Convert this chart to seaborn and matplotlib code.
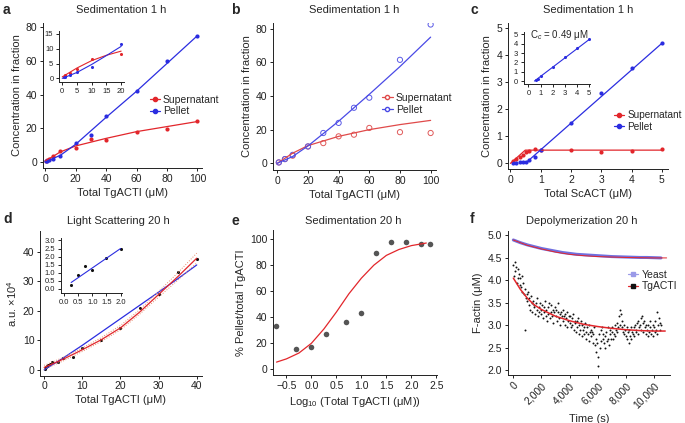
"""
    Six-panel actin polymerisation figure: sedimentation, light scattering
    and depolymerization of TgACTI vs yeast actin
"""

import matplotlib.pyplot as plt
from matplotlib.lines import Line2D
import seaborn as sns

# ---- panel a : sedimentation 1 h (filled dots) ----
a_total = [0.5, 1, 2.5, 5, 10, 20, 30, 40, 60, 80, 100]
a_pellet = [0.3, 0.5, 1.2, 2.0, 3.8, 11.5, 16, 27, 42, 60, 75]
a_super = [0.5, 1.0, 1.8, 3.3, 6.5, 8.3, 13.5, 13, 18, 19.5, 24.5]
a_fit_x = [0, 10, 20, 40, 60, 80, 100]
a_fit_super = [0.5, 6.0, 9.5, 14.0, 18.0, 21.0, 24.0]
a_fit_pellet = [0, 4.0, 10.5, 26.5, 42.0, 58.5, 75.0]
a_in_fit_x = [0, 5, 10, 15, 20]
a_in_fit_super = [0.5, 3.5, 6.0, 7.8, 9.2]
a_in_fit_pellet = [0, 2.0, 4.7, 7.7, 10.8]

# ---- panel b : sedimentation 1 h (open circles) ----
b_total = [1, 5, 10, 20, 30, 40, 50, 60, 80, 100]
b_pellet = [0.5, 2.5, 5, 10, 18, 24, 33, 39, 61.5, 82.5]
b_super = [0.5, 2.5, 4.5, 10, 12, 16, 17, 21, 18.5, 18]
b_fit_x = [0, 10, 20, 40, 60, 80, 100]
b_fit_super = [0, 6.0, 10.5, 16.0, 20.0, 23.0, 25.5]
b_fit_pellet = [0, 4.0, 10.3, 25.0, 41.0, 57.5, 75.0]

# ---- panel c : ScACT sedimentation ----
c_total = [0.1, 0.2, 0.3, 0.4, 0.5, 0.6, 0.8, 1, 2, 3, 4, 5]
c_pellet = [0.02, 0.03, 0.05, 0.06, 0.06, 0.12, 0.25, 0.5, 1.5, 2.6, 3.55, 4.45]
c_super = [0.08, 0.15, 0.25, 0.3, 0.42, 0.45, 0.55, 0.5, 0.48, 0.42, 0.47, 0.55]
c_fit_super_x = [0, 0.49, 5]
c_fit_super = [0, 0.49, 0.49]
c_fit_pellet_x = [0.49, 5]
c_fit_pellet = [0, 4.45]
c_in_total = [0.6, 0.8, 1, 2, 3, 4, 5]
c_in_pellet = [0.1, 0.25, 0.5, 1.5, 2.6, 3.55, 4.5]

# ---- panel d : light scattering 20 h ----
d_total = [0.25, 0.5, 0.75, 1, 1.5, 2, 3.5, 5, 7.5, 10, 15, 20, 25, 30, 35, 40]
d_signal = [0.3, 1.0, 1.2, 1.5, 2.0, 2.5, 2.6, 4.0, 4.5, 7.5, 10, 14, 21, 25.5, 33, 37.5]
d_fit_x = [0, 5, 10, 15, 20, 25, 30, 35, 40]
d_fit_power = [0.8, 3.6, 6.8, 10.2, 14.2, 19.5, 25.5, 31.5, 37.8]
d_fit_hi = [1.5, 4.2, 7.4, 10.9, 15.0, 20.3, 26.5, 32.8, 39.5]
d_fit_lo = [0.2, 3.0, 6.2, 9.6, 13.5, 18.8, 24.6, 30.3, 36.2]
d_fit_linear = [0, 4.0, 8.3, 12.8, 17.3, 21.8, 26.3, 30.8, 35.5]
d_in_total = [0.25, 0.5, 0.75, 1.0, 1.5, 2.0]
d_in_signal = [0.25, 0.85, 1.4, 1.2, 1.9, 2.5]
d_in_fit_x = [0.25, 2.0]
d_in_fit = [0.4, 2.5]

# ---- panel e : sedimentation 20 h ----
e_log_total = [-0.7, -0.3, 0, 0.3, 0.7, 1.0, 1.3, 1.6, 1.9, 2.2, 2.38]
e_pct_pellet = [33, 15.5, 17, 27, 36.5, 43, 89, 97.5, 98, 96, 96.5]
e_fit_x = [-0.7, -0.5, -0.25, 0, 0.25, 0.5, 0.75, 1.0, 1.25, 1.5, 1.75, 2.0, 2.3]
e_fit_y = [5.5, 8, 12.5, 20, 31, 44, 58, 70, 80, 87.5, 92, 95, 97]

# ---- panel f : depolymerization 20 h ----
f_yeast_t = [0, 500, 1000, 1500, 2000, 2500, 3000, 3500, 4000, 4500, 5000,
             5500, 6000, 6500, 7000, 7500, 8000, 8500, 9000, 9500, 10000, 10500]
f_yeast = [4.9, 4.84, 4.79, 4.75, 4.71, 4.68, 4.65, 4.62, 4.6, 4.58, 4.57,
           4.56, 4.55, 4.54, 4.53, 4.525, 4.52, 4.515, 4.51, 4.51, 4.505, 4.5]
f_yeast_fit_t = [0, 1000, 2000, 3000, 4000, 5000, 6000, 7000, 8000, 9000, 10000, 10900]
f_yeast_fit = [4.9, 4.78, 4.7, 4.63, 4.58, 4.55, 4.53, 4.52, 4.51, 4.505, 4.5, 4.5]
f_tg_t = list(range(0, 10550, 50))
f_tg = [4.35, 4.1, 4.4, 4.2, 4.3, 3.95, 4.25, 4.05, 4.15, 3.9,
        4.05, 3.85, 4.1, 3.75, 3.95, 3.7, 2.9, 3.8, 3.6, 3.7,
        3.55, 3.75, 3.45, 3.6, 3.35, 3.65, 3.5, 3.3, 3.55, 3.4,
        3.45, 3.25, 3.5, 3.35, 3.6, 3.2, 3.4, 3.3, 3.5, 3.25,
        3.35, 3.45, 3.15, 3.4, 3.3, 3.55, 3.2, 3.35, 3.1, 3.4,
        3.25, 3.5, 3.15, 3.3, 3.45, 3.2, 3.35, 3.05, 3.3, 3.4,
        3.2, 3.35, 3.1, 3.3, 3.5, 3.15, 3.25, 3.0, 3.3, 3.2,
        3.1, 3.35, 3.2, 3.0, 3.25, 3.15, 3.3, 2.95, 3.1, 3.2,
        3.05, 3.2, 2.95, 3.15, 3.0, 3.25, 2.9, 3.1, 3.05, 2.85,
        3.1, 2.95, 3.15, 2.8, 3.0, 2.9, 3.1, 2.75, 3.0, 2.9,
        2.95, 2.8, 3.05, 2.85, 2.7, 2.95, 2.8, 3.0, 2.65, 2.85,
        2.9, 2.75, 2.85, 2.6, 2.8, 2.95, 2.55, 2.7, 2.4, 2.6,
        2.1, 2.3, 2.8, 2.5, 2.9, 2.65, 2.95, 2.7, 2.8, 2.6,
        2.75, 2.5, 2.85, 2.65, 2.95, 2.7, 2.55, 2.8, 2.9, 2.7,
        2.85, 2.95, 2.7, 2.8, 3.0, 2.75, 2.9, 2.85, 3.05, 2.95,
        3.2, 3.35, 3.0, 3.25, 2.95, 3.1, 2.85, 3.0, 2.8, 2.9,
        2.75, 2.95, 2.7, 2.85, 2.6, 2.9, 2.75, 2.95, 2.7, 2.85,
        2.8, 2.95, 2.75, 3.0, 2.85, 2.9, 3.05, 2.8, 3.1, 2.95,
        3.0, 3.15, 2.9, 3.2, 3.05, 2.85, 3.1, 2.95, 3.0, 2.8,
        2.9, 2.75, 3.0, 2.85, 2.95, 3.1, 2.8, 2.9, 3.0, 2.75,
        2.95, 2.85, 3.1, 2.9, 3.3, 2.8, 3.0, 3.15, 2.9, 3.05,
        3.0]
f_tg_fit_t = [0, 500, 1000, 1500, 2000, 3000, 4000, 5000, 6000, 7000,
              8000, 9000, 10000, 10800]
f_tg_fit = [4.05, 3.8, 3.6, 3.45, 3.35, 3.2, 3.1, 3.02, 2.97, 2.93,
            2.9, 2.88, 2.87, 2.87]

RED = "#e2262b"
BLUE = "#2b2de0"
FS = 7.5

sns.set_style("ticks")
plt.rcParams["font.family"] = ["Liberation Sans", "DejaVu Sans"]
plt.rcParams["mathtext.fontset"] = "custom"
plt.rcParams["mathtext.rm"] = "Liberation Sans"
plt.rcParams["mathtext.it"] = "Liberation Sans:italic"
plt.rcParams["axes.linewidth"] = 0.7

fig = plt.figure(figsize=(6.85, 4.23), dpi=100)
W, H = 685.0, 423.0


def add_ax(left, top, right, bottom):
    """axes from pixel box of the reference"""
    return fig.add_axes([left / W, 1 - bottom / H, (right - left) / W, (bottom - top) / H])


def style(ax, size=FS):
    sns.despine(ax=ax)
    ax.tick_params(length=2.5, width=0.7, labelsize=size, pad=1.5, colors="#222222")
    for s in ("left", "bottom"):
        ax.spines[s].set_color("#222222")


def line(ax, x, y, color, lw=0.9, ls="-"):
    sns.lineplot(x=x, y=y, ax=ax, color=color, lw=lw, ls=ls, sort=False,
                 estimator=None, legend=False)


def pts(ax, x, y, color, s=9, open_=False):
    if open_:
        sns.scatterplot(x=x, y=y, ax=ax, s=s, facecolor="none", edgecolor=color,
                        linewidth=0.7, legend=False)
    else:
        sns.scatterplot(x=x, y=y, ax=ax, s=s, color=color, linewidth=0, legend=False)


def leg(ax, items, anchor, marker="o", mfc=None, size=FS):
    handles = []
    for lab, col, mcol in items:
        handles.append(Line2D([0], [0], color=col, lw=0.9, marker=marker, ms=3,
                              mfc=mcol if mfc is None else mfc, mec=mcol))
    ax.legend(handles, [i[0] for i in items], loc="center left", bbox_to_anchor=anchor,
              frameon=False, fontsize=size, handlelength=1.0, handletextpad=0.3,
              labelspacing=0.15, borderpad=0, borderaxespad=0)


def head(letter, lx, ly, title, tx, ty):
    fig.text(lx / W, 1 - ly / H, letter, fontsize=10, fontweight="bold", va="center")
    fig.text(tx / W, 1 - ty / H, title, fontsize=8, ha="center", va="center")


# ----- a -----
ax = add_ax(43, 23, 202, 168)
line(ax, a_fit_x, a_fit_super, RED)
line(ax, a_fit_x, a_fit_pellet, BLUE)
pts(ax, a_total, a_super, RED)
pts(ax, a_total, a_pellet, BLUE)
ax.set_xlim(-1.5, 103)
ax.set_ylim(-3.6, 82.5)
ax.set_xticks([0, 20, 40, 60, 80, 100])
ax.set_yticks([0, 20, 40, 60, 80])
ax.set_xlabel("Total TgACTI (μM)", fontsize=8, labelpad=3)
ax.set_ylabel("Concentration in fraction", fontsize=8, labelpad=3)
style(ax)
leg(ax, [("Supernatant", RED, RED), ("Pellet", BLUE, BLUE)], (0.67, 0.43))
head("a", 3, 10, "Sedimentation 1 h", 121, 10)

ins = add_ax(59, 31, 123.5, 82.5)
line(ins, a_in_fit_x, a_in_fit_super, RED, lw=0.8)
line(ins, a_in_fit_x, a_in_fit_pellet, BLUE, lw=0.8)
pts(ins, a_total[:6], a_super[:6], RED, s=5)
pts(ins, a_total[:6], a_pellet[:6], BLUE, s=5)
ins.set_xlim(-1.1, 20.8)
ins.set_ylim(-1.4, 16)
ins.set_xticks([0, 5, 10, 15, 20])
ins.set_yticks([0, 5, 10, 15])
style(ins, 5.5)
ins.set_facecolor("none")

# ----- b -----
ax = add_ax(273, 23, 436, 170)
line(ax, b_fit_x, b_fit_super, "#e04a4a")
line(ax, b_fit_x, b_fit_pellet, "#4a4ae6")
pts(ax, b_total, b_super, "#e05a5a", s=14, open_=True)
pts(ax, b_total, b_pellet, "#5a5ae6", s=14, open_=True)
ax.set_xlim(-2.8, 103.5)
ax.set_ylim(-4, 83.4)
ax.set_xticks([0, 20, 40, 60, 80, 100])
ax.set_yticks([0, 20, 40, 60, 80])
ax.set_xlabel("Total TgACTI (μM)", fontsize=8, labelpad=3)
ax.set_ylabel("Concentration in fraction", fontsize=8, labelpad=3)
style(ax)
leg(ax, [("Supernatant", "#e04a4a", "#e04a4a"), ("Pellet", "#4a4ae6", "#4a4ae6")],
    (0.67, 0.45), mfc="white")
head("b", 231, 10, "Sedimentation 1 h", 354, 10)

# ----- c -----
ax = add_ax(507.7, 23, 668, 169.3)
line(ax, c_fit_super_x, c_fit_super, RED)
line(ax, c_fit_pellet_x, c_fit_pellet, BLUE)
pts(ax, c_total, c_super, RED)
pts(ax, c_total, c_pellet, BLUE)
ax.set_xlim(-0.09, 5.2)
ax.set_ylim(-0.22, 5.2)
ax.set_xticks([0, 1, 2, 3, 4, 5])
ax.set_yticks([0, 1, 2, 3, 4, 5])
ax.set_xlabel("Total ScACT (μM)", fontsize=8, labelpad=3)
ax.set_ylabel("Concentration in fraction", fontsize=8, labelpad=3)
style(ax)
leg(ax, [("Supernatant", RED, RED), ("Pellet", BLUE, BLUE)], (0.665, 0.33), size=7.2)
head("c", 470, 10, "Sedimentation 1 h", 588, 10)

ins = add_ax(523.5, 31.7, 590, 84.5)
line(ins, c_fit_pellet_x, c_fit_pellet, BLUE, lw=0.8)
pts(ins, c_in_total, c_in_pellet, BLUE, s=5)
ins.set_xlim(-0.41, 5.08)
ins.set_ylim(-0.37, 5.3)
ins.set_xticks([0, 1, 2, 3, 4, 5])
ins.set_yticks([0, 1, 2, 3, 4, 5])
ins.text(0.1, 4.95, "C$_c$ = 0.49 μM", fontsize=7, va="center", ha="left")
style(ins, 5.5)
ins.set_facecolor("none")

# ----- d -----
ax = add_ax(40, 231, 201.7, 375.7)
line(ax, d_fit_x, d_fit_linear, BLUE)
line(ax, d_fit_x, d_fit_hi, "#e88a6a", lw=0.7, ls=":")
line(ax, d_fit_x, d_fit_lo, "#e88a6a", lw=0.7, ls=":")
line(ax, d_fit_x, d_fit_power, RED)
pts(ax, d_total, d_signal, "#111111", s=5)
ax.set_xlim(-1.1, 41.3)
ax.set_ylim(-2, 47)
ax.set_xticks([0, 10, 20, 30, 40])
ax.set_yticks([0, 10, 20, 30, 40])
ax.set_xlabel("Total TgACTI (μM)", fontsize=8, labelpad=3)
ax.set_ylabel(r"a.u. $\times10^4$", fontsize=8, labelpad=3)
style(ax)
head("d", 3, 219, "Light Scattering 20 h", 118, 221)

ins = add_ax(61, 238, 122, 293)
line(ins, d_in_fit_x, d_in_fit, BLUE, lw=0.8)
pts(ins, d_in_total, d_in_signal, "#111111", s=5)
ins.set_xlim(-0.11, 2.05)
ins.set_ylim(-0.25, 3.15)
ins.set_xticks([0, 0.5, 1.0, 1.5, 2.0])
ins.set_yticks([0, 0.5, 1.0, 1.5, 2.0, 2.5, 3.0])
ins.xaxis.set_major_formatter("{x:.1f}")
ins.yaxis.set_major_formatter("{x:.1f}")
style(ins, 5.5)
ins.set_facecolor("none")

# ----- e -----
ax = add_ax(273, 230, 437.3, 375)
line(ax, e_fit_x, e_fit_y, RED)
pts(ax, e_log_total, e_pct_pellet, "#555555", s=16)
ax.set_xlim(-0.77, 2.52)
ax.set_ylim(-4.4, 107)
ax.set_xticks([-0.5, 0, 0.5, 1.0, 1.5, 2.0, 2.5])
ax.xaxis.set_major_formatter("{x:.1f}")
ax.set_yticks([0, 20, 40, 60, 80, 100])
ax.set_xlabel("Log$_{10}$ (Total TgACTI (μM))", fontsize=8, labelpad=3)
ax.set_ylabel("% Pellet/total TgACTI", fontsize=8, labelpad=3)
style(ax)
head("e", 231, 221, "Sedimentation 20 h", 353, 221)

# ----- f -----
ax = add_ax(507.7, 231, 670, 375)
line(ax, f_yeast_t, f_yeast, "#7070e0", lw=2.2)
line(ax, f_yeast_fit_t, f_yeast_fit, RED, lw=0.7)
pts(ax, f_tg_t, f_tg, "#111111", s=2)
line(ax, f_tg_fit_t, f_tg_fit, RED, lw=1.1)
ax.set_xlim(-400, 11140)
ax.set_ylim(1.89, 5.1)
ax.set_xticks([0, 2000, 4000, 6000, 8000, 10000])
ax.set_xticklabels(["0", "2,000", "4,000", "6,000", "8,000", "10,000"],
                   rotation=45, ha="right", rotation_mode="anchor")
ax.set_yticks([2.0, 2.5, 3.0, 3.5, 4.0, 4.5, 5.0])
ax.yaxis.set_major_formatter("{x:.1f}")
ax.set_xlabel("Time (s)", fontsize=8, labelpad=3)
ax.set_ylabel("F-actin (μM)", fontsize=8, labelpad=3)
style(ax)
leg(ax, [("Yeast", "#9a9ae8", "#9a9ae8"), ("TgACTI", RED, "#111111")], (0.74, 0.656),
    marker="s")
head("f", 470, 219, "Depolymerization 20 h", 582, 221)

fig.savefig("out.png", dpi=100)
